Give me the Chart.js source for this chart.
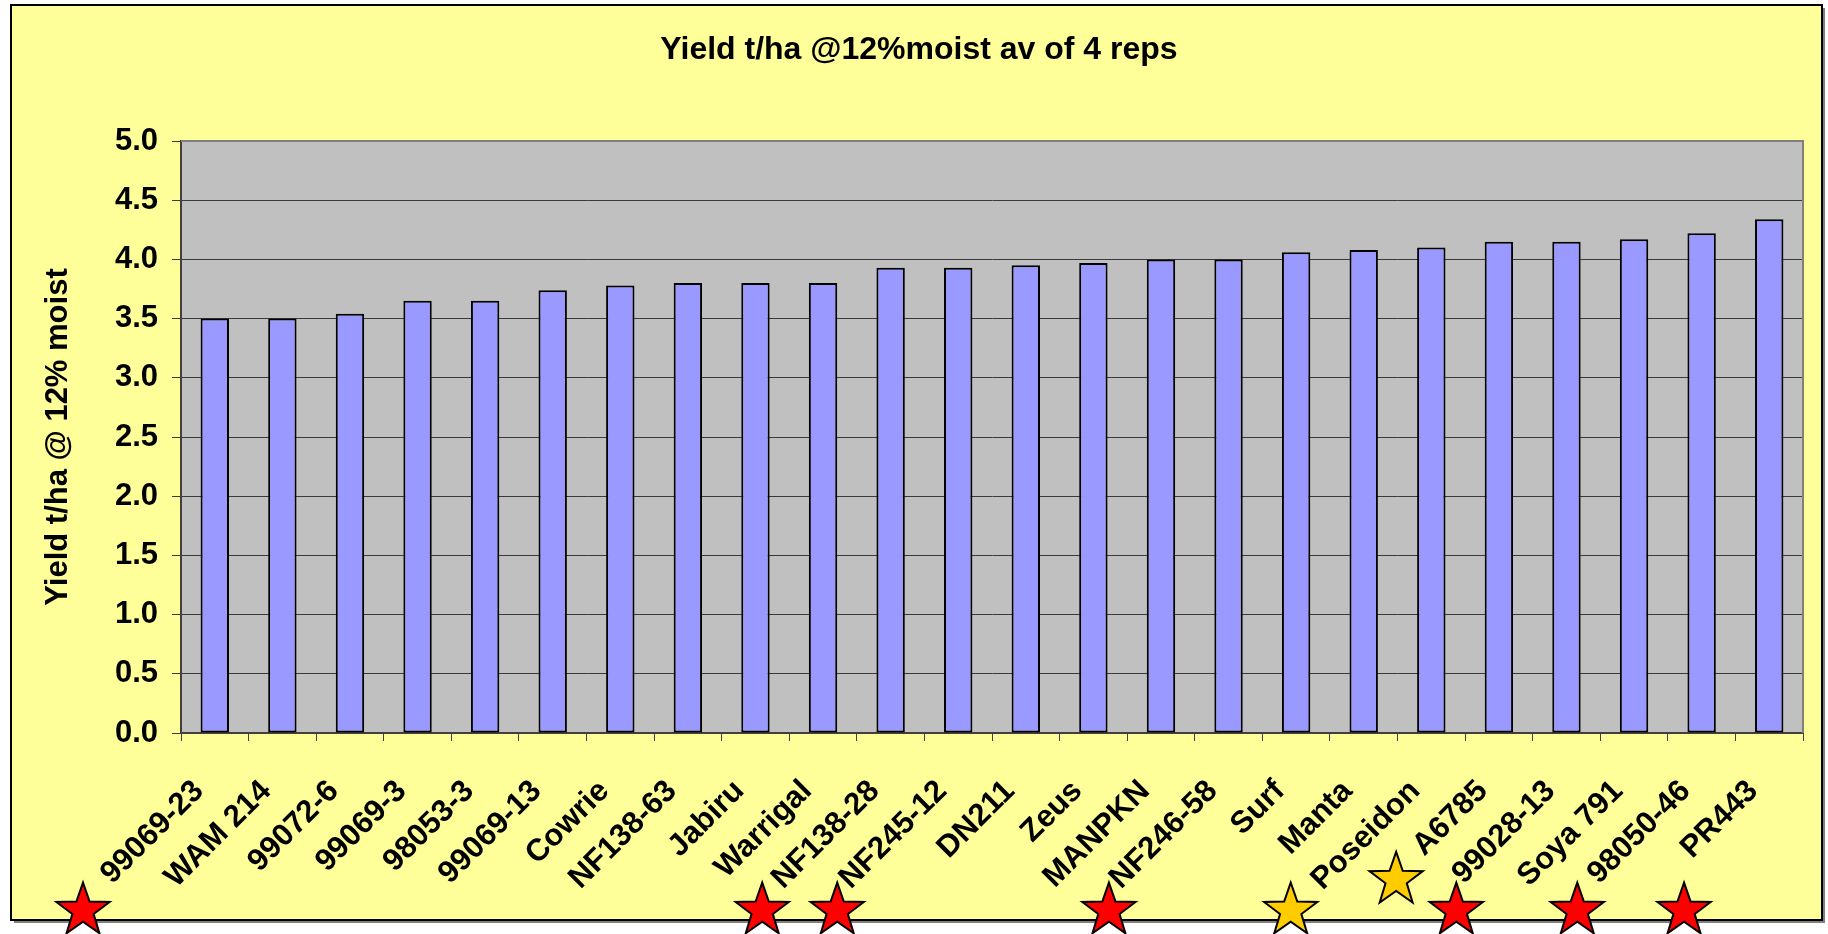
<!DOCTYPE html>
<html>
<head>
<meta charset="utf-8">
<script src="https://cdn.jsdelivr.net/npm/chart.js@4.4.1/dist/chart.umd.min.js"></script>
<style>
    html, body { margin: 0; padding: 0; background: #ffffff; }
    #wrap { width: 1828px; height: 934px; }
</style>
</head>
<body>
<div id="wrap"><canvas id="ChartYield" width="1828" height="934"></canvas></div>
<script>
const chartTitle = 'Yield t/ha @12%moist av of 4 reps';
const varieties = ['99069-23', 'WAM 214', '99072-6', '99069-3', '98053-3', '99069-13', 'Cowrie', 'NF138-63',
    'Jabiru', 'Warrigal', 'NF138-28', 'NF245-12', 'DN211', 'Zeus', 'MANPKN', 'NF246-58', 'Surf', 'Manta',
    'Poseidon', 'A6785', '99028-13', 'Soya 791', '98050-46', 'PR443'];
const yieldValues = [3.50, 3.50, 3.54, 3.65, 3.65, 3.74, 3.78, 3.80, 3.80, 3.80, 3.93, 3.93, 3.95, 3.97,
    4.00, 4.00, 4.06, 4.08, 4.10, 4.15, 4.15, 4.17, 4.22, 4.34];
const yTicks = [0, 0.5, 1.0, 1.5, 2.0, 2.5, 3.0, 3.5, 4.0, 4.5, 5.0];

// star markers under the labels (x in category units, y in axis units)
const starX = [-1.95, 8.10, 9.21, 13.23, 15.92, 17.48, 18.37, 20.16, 21.74];
const starY = [-1.5, -1.5, -1.5, -1.5, -1.5, -1.24, -1.5, -1.5, -1.5];
const starColors = ['#FF0000', '#FF0000', '#FF0000', '#FF0000', '#FFCC00', '#FFCC00', '#FF0000', '#FF0000', '#FF0000'];

const fontFamily = '"Liberation Sans", Arial, sans-serif';

function drawStar(ctx, cx, cy, r, fill) {
    ctx.beginPath();
    for (let k = 0; k < 10; k++) {
        const rad = k % 2 === 0 ? r : r * 0.4;
        const a = -Math.PI / 2 + k * Math.PI / 5;
        const px = cx + rad * Math.cos(a);
        const py = cy + rad * Math.sin(a);
        if (k === 0) ctx.moveTo(px, py); else ctx.lineTo(px, py);
    }
    ctx.closePath();
    ctx.fillStyle = fill;
    ctx.fill();
    ctx.lineWidth = 2;
    ctx.strokeStyle = '#000000';
    ctx.stroke();
}

const framePlugin = {
    id: 'frame',
    beforeDraw(chart) {
        const ctx = chart.ctx;
        const area = chart.chartArea;
        ctx.save();
        ctx.fillStyle = '#ffffff';
        ctx.fillRect(0, 0, chart.width, chart.height);
        // shadow
        ctx.fillStyle = '#808080';
        ctx.fillRect(14, 8, 1811, 915);
        ctx.fillStyle = '#FFFF99';
        ctx.fillRect(11, 5, 1811, 915);
        ctx.lineWidth = 2;
        ctx.strokeStyle = '#000000';
        ctx.strokeRect(11, 5, 1811, 915);
        ctx.fillStyle = '#C0C0C0';
        ctx.fillRect(area.left, area.top, area.right - area.left, area.bottom - area.top);
        // title
        ctx.fillStyle = '#000000';
        ctx.font = 'bold 32px ' + fontFamily;
        ctx.textAlign = 'center';
        ctx.textBaseline = 'middle';
        ctx.fillText(chartTitle, 919, 50);
        ctx.restore();
    },
    afterDraw(chart) {
        const ctx = chart.ctx;
        const area = chart.chartArea;
        ctx.save();
        ctx.strokeStyle = '#808080';
        ctx.lineWidth = 2;
        ctx.beginPath();
        ctx.moveTo(area.left, area.top);
        ctx.lineTo(area.right, area.top);
        ctx.lineTo(area.right, area.bottom);
        ctx.stroke();
        const xs = chart.scales.x;
        const ys = chart.scales.y;
        starX.forEach((v, i) => {
            drawStar(ctx, xs.getPixelForValue(v), ys.getPixelForValue(starY[i]), 28, starColors[i]);
        });
        ctx.restore();
    }
};

const ctx = document.getElementById('ChartYield').getContext('2d');
const chartYield = new Chart(ctx, {
    type: 'bar',
    data: {
        labels: varieties,
        datasets: [{
            label: 'Yield t/ha',
            data: yieldValues,
            backgroundColor: '#9999FF',
            borderColor: '#000000',
            borderWidth: 2,
            borderSkipped: false,
            categoryPercentage: 1.0,
            barPercentage: 0.42
        }]
    },
    options: {
        responsive: false,
        animation: false,
        devicePixelRatio: 1,
        layout: {
            padding: { left: 0, right: 23, top: 141, bottom: 0 }
        },
        plugins: {
            legend: { display: false },
            tooltip: { enabled: false },
            title: { display: false }
        },
        scales: {
            x: {
                offset: true,
                grid: {
                    offset: true,
                    drawOnChartArea: false,
                    drawTicks: true,
                    tickLength: 8,
                    color: '#404040'
                },
                border: { color: '#404040', width: 2 },
                ticks: {
                    autoSkip: false,
                    maxRotation: 45,
                    minRotation: 45,
                    labelOffset: -16,
                    padding: 32,
                    color: '#000000',
                    font: { family: fontFamily, size: 31, weight: 'bold' }
                },
                afterFit: (scale) => { scale.height = 201; }
            },
            y: {
                min: 0,
                max: 5,
                afterBuildTicks: (scale) => { scale.ticks = yTicks.map(v => ({ value: v })); },
                grid: {
                    color: '#3a3a3a',
                    lineWidth: 1,
                    tickLength: 9
                },
                border: { color: '#404040', width: 2 },
                ticks: {
                    padding: 14,
                    color: '#000000',
                    font: { family: fontFamily, size: 31, weight: 'bold' },
                    callback: (v) => Number(v).toFixed(1)
                },
                title: {
                    display: true,
                    text: 'Yield t/ha @ 12% moist',
                    color: '#000000',
                    font: { family: fontFamily, size: 31, weight: 'bold' },
                    padding: { top: 40, bottom: 0 }
                },
                afterFit: (scale) => { scale.width = 181; }
            }
        }
    },
    plugins: [framePlugin]
});
</script>
</body>
</html>
